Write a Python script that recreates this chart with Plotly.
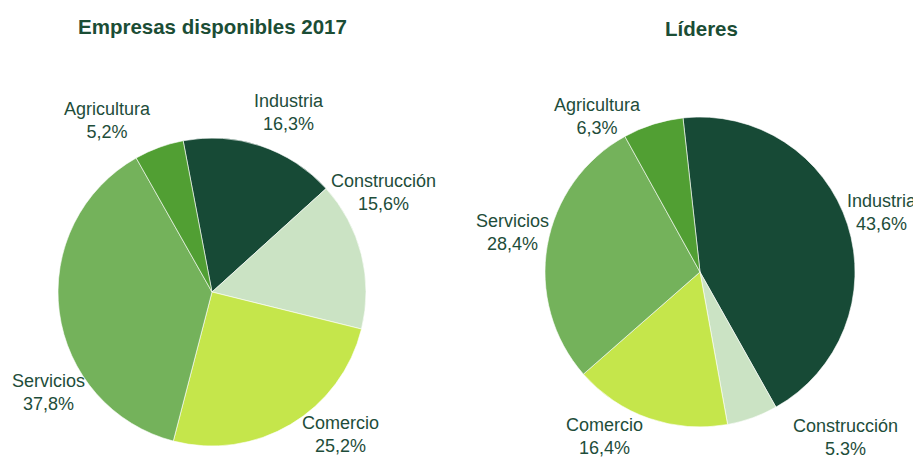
import plotly.graph_objects as go

categories = ["Industria", "Construcción", "Comercio", "Servicios", "Agricultura"]
empresas_values = [16.3, 15.6, 25.2, 37.8, 5.2]
empresas_labels = ["16,3%", "15,6%", "25,2%", "37,8%", "5,2%"]
lideres_values = [43.6, 5.3, 16.4, 28.4, 6.3]
lideres_labels = ["43,6%", "5.3%", "16,4%", "28,4%", "6,3%"]
colors = ["#174A36", "#CBE3C4", "#C5E64B", "#74B25B", "#519F33"]

OFF = 8  # page body margin
W, H = 921 - OFF, 459 - OFF
text_color = "#1E4D3A"
font_family = "Liberation Sans, Arial, sans-serif"

# layout: data-label block centres (page pixels), one per category, per pie
left_label_pos = [(289, 112), (383, 193), (340, 434), (48, 392), (107, 121)]
right_label_pos = [(882, 212), (845, 437), (604, 436), (512, 232), (597, 116)]


def px(x):
    return (x - OFF) / W


def py(y):
    return 1 - (y - OFF) / H


fig = go.Figure()
fig.add_trace(go.Pie(
    labels=categories, values=empresas_values, customdata=empresas_labels,
    textinfo="none", hovertemplate="%{label}<br>%{customdata}<extra></extra>",
    sort=False, direction="clockwise", rotation=-10.8, automargin=False,
    marker=dict(colors=colors, line=dict(color="white", width=0.6)),
    domain=dict(x=[px(58), px(366)], y=[py(446), py(138)]),
    showlegend=False,
))
fig.add_trace(go.Pie(
    labels=categories, values=lideres_values, customdata=lideres_labels,
    textinfo="none", hovertemplate="%{label}<br>%{customdata}<extra></extra>",
    sort=False, direction="clockwise", rotation=-6.3, automargin=False,
    marker=dict(colors=colors, line=dict(color="white", width=0.6)),
    domain=dict(x=[px(545), px(855)], y=[py(427), py(117)]),
    showlegend=False,
))

annotations = [
    dict(text="<b>Empresas disponibles 2017</b>", x=px(212), y=py(27),
         xref="paper", yref="paper", showarrow=False, xanchor="center",
         yanchor="middle",
         font=dict(size=20.5, color="#1B4D35", family=font_family)),
    dict(text="<b>Líderes</b>", x=px(701), y=py(29),
         xref="paper", yref="paper", showarrow=False, xanchor="center",
         yanchor="middle",
         font=dict(size=20.5, color="#1B4D35", family=font_family)),
]
for cats, labs, poss in [(categories, empresas_labels, left_label_pos),
                         (categories, lideres_labels, right_label_pos)]:
    for cat, lab, (x, y) in zip(cats, labs, poss):
        annotations.append(dict(
            text=f"{cat}<br>{lab}", x=px(x), y=py(y), xref="paper", yref="paper",
            showarrow=False, xanchor="center", yanchor="middle", align="center",
            font=dict(size=18, color=text_color, family=font_family)))

fig.update_layout(
    width=W, height=H,
    margin=dict(l=0, r=0, t=0, b=0),
    paper_bgcolor="white", plot_bgcolor="white",
    font=dict(family=font_family, color=text_color),
    annotations=annotations,
)

fig.write_html("out.html")
